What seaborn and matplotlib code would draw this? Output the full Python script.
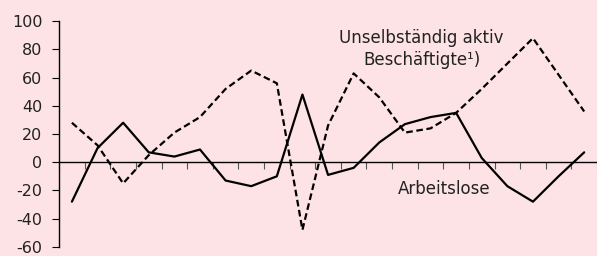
import matplotlib
matplotlib.use("Agg")
import matplotlib.pyplot as plt
import numpy as np
import pandas as pd
import seaborn as sns

# =========================================================
# Data
# =========================================================

periods = list(range(21))

arbeitslose = [-28, 10, 28, 7, 4, 9, -13, -17, -10, 48, -9,
               -4, 14, 27, 32, 35, 3, -17, -28, -10, 7]

beschaeftigte = [28, 12, -15, 5, 21, 32, 52, 65, 56, -48, 26,
                 63, 46, 21, 24, 35, 52, 70, 88, 62, 36]

y_ticks = [-60, -40, -20, 0, 20, 40, 60, 80, 100]

BG = "#fde3e6"
INK = "#222222"

df = pd.DataFrame({
    "period": periods * 2,
    "value": arbeitslose + beschaeftigte,
    "series": ["Arbeitslose"] * 21 + ["Beschäftigte"] * 21,
})

# =========================================================
# Plot
# =========================================================

sns.set_style("white")
plt.rcParams["font.family"] = ["DejaVu Sans"]

fig = plt.figure(figsize=(5.97, 2.56), dpi=100, facecolor=BG)
ax = fig.add_axes([0.099, 0.036, 0.901, 0.881])
ax.set_facecolor(BG)

sns.lineplot(
    data=df,
    x="period",
    y="value",
    hue="series",
    style="series",
    palette={"Arbeitslose": "black", "Beschäftigte": "black"},
    dashes={"Arbeitslose": "", "Beschäftigte": (3, 1.6)},
    linewidth=1.6,
    legend=False,
    ax=ax,
)

ax.set_xlim(-0.5, 20.5)
ax.set_ylim(-60, 100)

ax.spines["top"].set_visible(False)
ax.spines["right"].set_visible(False)
ax.spines["bottom"].set_position(("data", 0))
ax.spines["bottom"].set_linewidth(1.0)
ax.spines["left"].set_linewidth(1.0)
ax.spines["bottom"].set_color("black")
ax.spines["left"].set_color("black")

ax.set_xticks(np.arange(-0.5, 21, 1))
ax.set_xticklabels([])
ax.tick_params(axis="x", direction="out", length=5, width=0.8,
               color="#555555", bottom=True)

ax.set_yticks(y_ticks)
ax.set_yticklabels([str(t) for t in y_ticks])
ax.tick_params(axis="y", direction="out", length=5, width=0.8,
               color="black", left=True, labelsize=11.5,
               labelcolor=INK, pad=7)

ax.set_xlabel("")
ax.set_ylabel("")

ax.text(13.65, 80.5, "Unselbständig aktiv\nBeschäftigte¹)",
        ha="center", va="center", fontsize=12, color=INK,
        linespacing=1.3)
ax.text(14.53, -19, "Arbeitslose", ha="center", va="center",
        fontsize=12, color=INK)

fig.savefig("out.png", dpi=100, facecolor=BG)
